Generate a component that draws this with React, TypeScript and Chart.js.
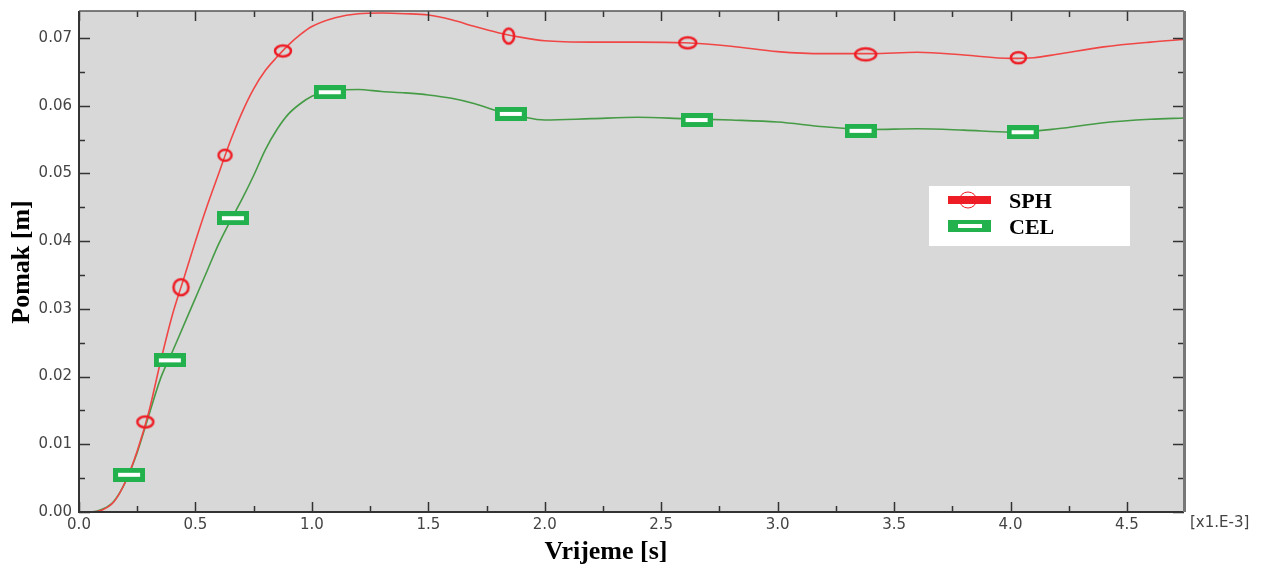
import React, { useEffect, useRef } from "react";
import { Chart, registerables } from "chart.js";

Chart.register(...registerables);

// ---- data (time in x1.E-3 s, displacement in m) ----
const sphTime = [0, 0.05, 0.1, 0.15, 0.2, 0.25, 0.3, 0.35, 0.4, 0.45, 0.5, 0.55, 0.6, 0.65, 0.7, 0.75, 0.8, 0.85, 0.9, 0.95, 1.0, 1.1, 1.2, 1.3, 1.4, 1.5, 1.6, 1.7, 1.8, 1.9, 2.0, 2.2, 2.4, 2.6, 2.8, 3.0, 3.2, 3.4, 3.6, 3.8, 4.0, 4.1, 4.2, 4.4, 4.6, 4.75];
const sphDisp = [0, 0.0, 0.0003, 0.0015, 0.0045, 0.009, 0.0148, 0.0222, 0.029, 0.0345, 0.04, 0.0452, 0.05, 0.0548, 0.059, 0.0625, 0.0652, 0.0672, 0.069, 0.0705, 0.0717, 0.073, 0.0736, 0.0737, 0.0736, 0.0734, 0.0727, 0.0717, 0.0708, 0.0701, 0.0696, 0.0694, 0.0694, 0.0693, 0.0688, 0.068, 0.0677, 0.0677, 0.0679, 0.0675, 0.067, 0.0671, 0.0676, 0.0687, 0.0694, 0.0698];

const celTime = [0, 0.05, 0.1, 0.15, 0.2, 0.25, 0.3, 0.35, 0.4, 0.45, 0.5, 0.55, 0.6, 0.65, 0.7, 0.75, 0.8, 0.85, 0.9, 0.95, 1.0, 1.05, 1.1, 1.2, 1.3, 1.4, 1.5, 1.6, 1.7, 1.8, 1.9, 2.0, 2.2, 2.4, 2.6, 2.8, 3.0, 3.2, 3.4, 3.6, 3.8, 4.0, 4.2, 4.4, 4.6, 4.75];
const celDisp = [0, 0.0, 0.0004, 0.0016, 0.0045, 0.0088, 0.0143, 0.0197, 0.0236, 0.0276, 0.0316, 0.0356, 0.0396, 0.043, 0.0462, 0.0497, 0.0535, 0.0565, 0.0588, 0.0603, 0.0614, 0.062, 0.0623, 0.0624, 0.0621, 0.0619, 0.0616, 0.0611, 0.0603, 0.0592, 0.0584, 0.0579, 0.0581, 0.0583, 0.0581, 0.0579, 0.0576, 0.0569, 0.0565, 0.0566, 0.0564, 0.0561, 0.0566, 0.0575, 0.058, 0.0582];

const sphMarkTime = [0.285, 0.438, 0.627, 0.876, 1.845, 2.614, 3.378, 4.034];
const sphMarkDisp = [0.0133, 0.0332, 0.0527, 0.0681, 0.0703, 0.0693, 0.0676, 0.0671];

const celMarkTime = [0.215, 0.39, 0.661, 1.077, 1.854, 2.652, 3.356, 4.052];
const celMarkDisp = [0.0055, 0.0224, 0.0434, 0.062, 0.0588, 0.0579, 0.0563, 0.0561];

const xTickValues = [0, 0.5, 1.0, 1.5, 2.0, 2.5, 3.0, 3.5, 4.0, 4.5];
const yTickValues = [0, 0.01, 0.02, 0.03, 0.04, 0.05, 0.06, 0.07];

const seriesNames = ["SPH", "CEL"];
const xTitle = "Vrijeme [s]";
const yTitle = "Pomak [m]";
const xUnitNote = "[x1.E-3]";

const X_MAX = 4.745;
const Y_MAX = 0.074;

const RED = "#ee1c24";
const RED_LINE = "rgb(240,70,70)";
const GREEN = "#22b14c";
const GREEN_LINE = "rgb(70,155,70)";

function ellipseCanvas(w: number, h: number): HTMLCanvasElement {
  const c = document.createElement("canvas");
  c.width = w + 4;
  c.height = h + 4;
  const ctx = c.getContext("2d")!;
  ctx.strokeStyle = RED;
  ctx.lineWidth = 2.5;
  ctx.beginPath();
  ctx.ellipse(c.width / 2, c.height / 2, w / 2 - 1, h / 2 - 1, 0, 0, Math.PI * 2);
  ctx.stroke();
  return c;
}

function rectCanvas(): HTMLCanvasElement {
  const c = document.createElement("canvas");
  c.width = 32;
  c.height = 14;
  const ctx = c.getContext("2d")!;
  ctx.fillStyle = GREEN;
  ctx.fillRect(0, 0, 32, 14);
  ctx.fillStyle = "#ffffff";
  ctx.fillRect(5, 5, 22, 4);
  return c;
}

export default function App() {
  const ref = useRef<HTMLCanvasElement | null>(null);

  useEffect(() => {
    if (!ref.current) return;
    const ellipseDims: [number, number][] = [
      [18, 13], [17, 18], [15, 13], [18, 13], [13, 17], [19, 13], [23, 14], [17, 13],
    ];
    const ellipses = ellipseDims.map(([w, h]) => ellipseCanvas(w, h));
    const greenRect = rectCanvas();

    const tickFont = '15px "DejaVu Sans", sans-serif';
    const titleFont = 'bold 26px "Liberation Serif", "Times New Roman", serif';

    const framePlugin = {
      id: "frame",
      beforeDraw(chart: any) {
        const { ctx, chartArea: a } = chart;
        ctx.save();
        ctx.fillStyle = "#d8d8d8";
        ctx.fillRect(a.left, a.top, a.right - a.left, a.bottom - a.top);
        ctx.restore();
      },
      afterDatasetsDraw(chart: any) {
        const { ctx, chartArea: a, scales } = chart;
        const xs = scales.x;
        const ys = scales.y;
        ctx.save();
        ctx.strokeStyle = "#333";
        ctx.lineWidth = 1.5;
        ctx.beginPath();
        for (let v = 0; v <= X_MAX + 1e-9; v += 0.25) {
          const px = Math.round(xs.getPixelForValue(v)) + 0.5;
          const major = Math.abs(v / 0.5 - Math.round(v / 0.5)) < 1e-6;
          const len = major ? 10 : 6;
          ctx.moveTo(px, a.bottom);
          ctx.lineTo(px, a.bottom - len);
          ctx.moveTo(px, a.top);
          ctx.lineTo(px, a.top + len);
        }
        for (let v = 0; v <= Y_MAX + 1e-9; v += 0.005) {
          const py = Math.round(ys.getPixelForValue(v)) + 0.5;
          const major = Math.abs(v / 0.01 - Math.round(v / 0.01)) < 1e-6;
          const len = major ? 11 : 6;
          ctx.moveTo(a.left, py);
          ctx.lineTo(a.left + len, py);
          ctx.moveTo(a.right, py);
          ctx.lineTo(a.right - len, py);
        }
        ctx.stroke();
        ctx.strokeStyle = "#333";
        ctx.lineWidth = 2;
        ctx.beginPath();
        ctx.moveTo(a.left, a.top);
        ctx.lineTo(a.left, a.bottom);
        ctx.lineTo(a.right, a.bottom);
        ctx.stroke();
        ctx.strokeStyle = "#555";
        ctx.lineWidth = 1.5;
        ctx.beginPath();
        ctx.moveTo(a.left, a.top);
        ctx.lineTo(a.right, a.top);
        ctx.stroke();
        ctx.strokeStyle = "#777";
        ctx.lineWidth = 3;
        ctx.beginPath();
        ctx.moveTo(a.right + 0.5, a.top);
        ctx.lineTo(a.right + 0.5, a.bottom);
        ctx.stroke();
        ctx.restore();
      },
      afterDraw(chart: any) {
        const { ctx, chartArea: a } = chart;
        ctx.save();
        ctx.fillStyle = "#000";
        ctx.font = titleFont;
        ctx.textAlign = "center";
        ctx.textBaseline = "middle";
        ctx.fillText(xTitle, 606, 552);
        ctx.save();
        ctx.translate(22, 262);
        ctx.rotate(-Math.PI / 2);
        ctx.fillText(yTitle, 0, 0);
        ctx.restore();
        ctx.font = tickFont;
        ctx.fillStyle = "#444";
        ctx.textAlign = "left";
        ctx.fillText(xUnitNote, a.right + 6, 523);
        // legend
        const lx = 929, ly = 186, lw = 201, lh = 60;
        ctx.fillStyle = "#ffffff";
        ctx.fillRect(lx, ly, lw, lh);
        ctx.fillStyle = RED;
        ctx.fillRect(948, 196, 43, 8);
        ctx.strokeStyle = RED;
        ctx.lineWidth = 1;
        ctx.beginPath();
        ctx.ellipse(968, 200, 8.5, 8, 0, 0, Math.PI * 2);
        ctx.stroke();
        ctx.fillStyle = GREEN;
        ctx.fillRect(948, 220, 43, 12);
        ctx.fillStyle = "#ffffff";
        ctx.fillRect(958, 224, 24, 4);
        ctx.fillStyle = "#000";
        ctx.font = 'bold 22px "Liberation Serif", "Times New Roman", serif';
        ctx.textAlign = "left";
        ctx.textBaseline = "middle";
        ctx.fillText(seriesNames[0], 1009, 202);
        ctx.fillText(seriesNames[1], 1009, 228);
        ctx.restore();
      },
    };

    const toPts = (xs: number[], ys: number[]) => xs.map((x, i) => ({ x, y: ys[i] }));

    const chart = new Chart(ref.current, {
      type: "line",
      data: {
        datasets: [
          {
            label: seriesNames[0] + " line",
            data: toPts(sphTime, sphDisp),
            borderColor: RED_LINE,
            borderWidth: 1.6,
            pointRadius: 0,
            cubicInterpolationMode: "monotone",
            fill: false,
            order: 3,
          },
          {
            label: seriesNames[1] + " line",
            data: toPts(celTime, celDisp),
            borderColor: GREEN_LINE,
            borderWidth: 1.6,
            pointRadius: 0,
            cubicInterpolationMode: "monotone",
            fill: false,
            order: 4,
          },
          {
            label: seriesNames[1],
            data: toPts(celMarkTime, celMarkDisp),
            showLine: false,
            pointStyle: greenRect as any,
            pointRadius: 8,
            order: 1,
          },
          {
            label: seriesNames[0],
            data: toPts(sphMarkTime, sphMarkDisp),
            showLine: false,
            pointStyle: ((c: any) => ellipses[c.dataIndex] || ellipses[0]) as any,
            pointRadius: 8,
            order: 0,
          },
        ],
      } as any,
      options: {
        animation: false,
        responsive: false,
        parsing: false as any,
        layout: { padding: { top: 11, right: 79, left: 0, bottom: 0 } },
        plugins: { legend: { display: false }, tooltip: { enabled: false } },
        scales: {
          x: {
            type: "linear",
            min: 0,
            max: X_MAX,
            grid: { display: false, drawTicks: false },
            border: { display: false },
            ticks: {
              stepSize: 0.5,
              includeBounds: false,
              autoSkip: false,
              maxRotation: 0,
              padding: 4,
              color: "#444",
              font: { family: '"DejaVu Sans", sans-serif', size: 15 },
              callback: (v: any) => Number(v).toFixed(1),
            },
            afterBuildTicks: (s: any) => {
              s.ticks = xTickValues.map((v) => ({ value: v }));
            },
            afterFit: (s: any) => {
              s.height = 56;
              s.paddingLeft = 0;
              s.paddingRight = 0;
            },
          },
          y: {
            type: "linear",
            min: 0,
            max: Y_MAX,
            grid: { display: false, drawTicks: false },
            border: { display: false },
            ticks: {
              stepSize: 0.01,
              includeBounds: false,
              autoSkip: false,
              padding: 7,
              color: "#444",
              font: { family: '"DejaVu Sans", sans-serif', size: 15 },
              callback: (v: any) => Number(v).toFixed(2),
            },
            afterBuildTicks: (s: any) => {
              s.ticks = yTickValues.map((v) => ({ value: v }));
            },
            afterFit: (s: any) => {
              s.width = 79;
              s.paddingTop = 0;
              s.paddingBottom = 0;
            },
          },
        },
      } as any,
      plugins: [framePlugin],
    });
    return () => chart.destroy();
  }, []);

  return (
    <div style={{ position: "absolute", left: 0, top: 0, width: 1263, height: 568, background: "#fff" }}>
      <canvas ref={ref} width={1263} height={568} style={{ display: "block" }} />
    </div>
  );
}
